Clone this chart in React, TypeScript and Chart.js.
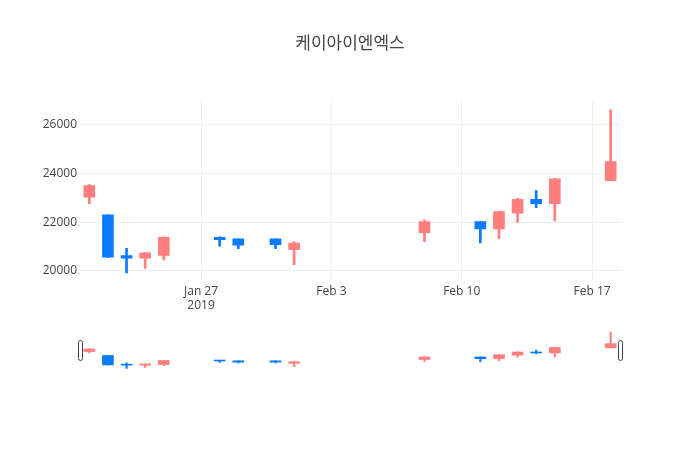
import React, { useEffect, useRef } from "react";
import { Chart, registerables } from "chart.js";

Chart.register(...registerables);

// ---- data ----
const dates = [
  "2019-01-21", "2019-01-22", "2019-01-23", "2019-01-24", "2019-01-25",
  "2019-01-28", "2019-01-29", "2019-01-31", "2019-02-01", "2019-02-08",
  "2019-02-11", "2019-02-12", "2019-02-13", "2019-02-14", "2019-02-15",
  "2019-02-18",
];
const opens = [23030, 22300, 20630, 20520, 20630, 21380, 21320, 21320, 20870, 21570, 22030, 21720, 22370, 22940, 22760, 23710];
const highs = [23550, 22300, 20930, 20750, 21400, 21400, 21320, 21320, 21200, 22100, 22030, 22450, 22980, 23300, 23790, 26630];
const lows = [22760, 20550, 19920, 20100, 20450, 21010, 20910, 20910, 20250, 21200, 21150, 21320, 21990, 22600, 22050, 23700];
const closes = [23500, 20560, 20520, 20740, 21380, 21280, 21060, 21080, 21140, 22030, 21720, 22440, 22940, 22760, 23780, 24490];

const yTicks = [20000, 22000, 24000, 26000];
const xTickDates = ["2019-01-27", "2019-02-03", "2019-02-10", "2019-02-17"];
const xFirstDate = "2019-01-21";
const xLastDate = "2019-02-18";
const yRange = [19625, 27005];
const titleText = "케이아이엔엑스";

const UP = "#ff7f7f";
const DOWN = "#0a7bff";
const FONT = '"Open Sans", "Noto Sans CJK KR", verdana, arial, sans-serif';
const MONTHS = ["Jan", "Feb", "Mar", "Apr", "May", "Jun", "Jul", "Aug", "Sep", "Oct", "Nov", "Dec"];

const dayNum = (s: string) => Date.parse(s + "T00:00:00Z") / 86400000;
const xMin = dayNum(xFirstDate) - 0.5;
const xMax = dayNum(xLastDate) + 0.5;
const xTickVals = xTickDates.map(dayNum);

const colors = opens.map((o, i) => (closes[i] >= o ? UP : DOWN));

function makeDatasets(bodyW: number, wickW: number) {
  return [
    {
      label: "body",
      data: dates.map((d, i) => ({ x: dayNum(d), y: [opens[i], closes[i]] })),
      backgroundColor: colors,
      borderColor: colors,
      borderWidth: 0,
      barThickness: bodyW,
      grouped: false,
      order: 0,
      minBarLength: 1,
    },
    {
      label: "wick",
      data: dates.map((d, i) => ({ x: dayNum(d), y: [lows[i], highs[i]] })),
      backgroundColor: colors,
      borderWidth: 0,
      barThickness: wickW,
      grouped: false,
      order: 1,
    },
  ];
}

const handlesPlugin = {
  id: "handles",
  afterDraw(chart: any) {
    const { ctx, chartArea } = chart;
    const h = 20;
    const w = 4;
    const cy = (chartArea.top + chartArea.bottom) / 2;
    ctx.save();
    ctx.fillStyle = "#ffffff";
    ctx.strokeStyle = "#444444";
    ctx.lineWidth = 1;
    [chartArea.left, chartArea.right].forEach((cx: number) => {
      ctx.beginPath();
      (ctx as any).roundRect(Math.round(cx - w / 2) + 0.5, Math.round(cy - h / 2) + 0.5, w, h, 2);
      ctx.fill();
      ctx.stroke();
    });
    ctx.restore();
  },
};

export default function App() {
  const mainRef = useRef<HTMLCanvasElement>(null);
  const sliderRef = useRef<HTMLCanvasElement>(null);

  useEffect(() => {
    const main = new Chart(mainRef.current as HTMLCanvasElement, {
      type: "bar",
      data: { datasets: makeDatasets(11, 2) as any },
      options: {
        responsive: false,
        maintainAspectRatio: false,
        animation: false,
        layout: { padding: { left: 0, right: 0, top: 0, bottom: 130 } },
        plugins: {
          legend: { display: false },
          tooltip: { enabled: false },
          title: {
            display: true,
            text: titleText,
            color: "#444",
            font: { family: FONT, size: 17, weight: "normal" as any },
            padding: { top: 34, bottom: 46 },
          },
        },
        scales: {
          x: {
            type: "linear",
            min: xMin,
            max: xMax,
            offset: false,
            grid: { offset: false, color: "#eeeeee", drawTicks: false },
            border: { display: false },
            ticks: {
              autoSkip: false,
              maxRotation: 0,
              padding: 4,
              color: "#444",
              font: { family: FONT, size: 12 },
              callback: (v: any, idx: number) => {
                const d = new Date(Number(v) * 86400000);
                const lbl = `${MONTHS[d.getUTCMonth()]} ${d.getUTCDate()}`;
                return idx === 0 ? [lbl, String(d.getUTCFullYear())] : lbl;
              },
            },
            afterBuildTicks: (s: any) => {
              s.ticks = xTickVals.map((v) => ({ value: v }));
            },
            afterFit: (s: any) => {
              s.height = 40;
            },
          },
          y: {
            type: "linear",
            min: yRange[0],
            max: yRange[1],
            grid: { color: "#eeeeee", drawTicks: false },
            border: { display: false },
            ticks: {
              padding: 3,
              color: "#444",
              font: { family: FONT, size: 12 },
              callback: (v: any) => String(v),
            },
            afterBuildTicks: (s: any) => {
              s.ticks = yTicks.map((v) => ({ value: v }));
            },
            afterFit: (s: any) => {
              s.width = 80;
            },
          },
          yR: {
            type: "linear",
            position: "right",
            display: true,
            min: yRange[0],
            max: yRange[1],
            grid: { display: false, drawOnChartArea: false, drawTicks: false },
            border: { display: false },
            ticks: { display: false },
            afterFit: (s: any) => {
              s.width = 80;
            },
          },
        },
      } as any,
    });

    const slider = new Chart(sliderRef.current as HTMLCanvasElement, {
      type: "bar",
      data: { datasets: makeDatasets(11, 1.5) as any },
      options: {
        responsive: false,
        maintainAspectRatio: false,
        animation: false,
        layout: { padding: { left: 80, right: 80, top: 330, bottom: 80 } },
        plugins: {
          legend: { display: false },
          tooltip: { enabled: false },
          title: { display: false },
        },
        scales: {
          x: { type: "linear", display: false, min: xMin, max: xMax, offset: false, grid: { offset: false } },
          y: { type: "linear", display: false, min: yRange[0], max: yRange[1] },
        },
      } as any,
      plugins: [handlesPlugin],
    });

    return () => {
      main.destroy();
      slider.destroy();
    };
  }, []);

  return (
    <div style={{ position: "absolute", left: 0, top: 0, width: 700, height: 450, background: "#fff" }}>
      <canvas ref={sliderRef} width={700} height={450} style={{ position: "absolute", left: 0, top: 0 }} />
      <canvas ref={mainRef} width={700} height={450} style={{ position: "absolute", left: 0, top: 0 }} />
    </div>
  );
}
